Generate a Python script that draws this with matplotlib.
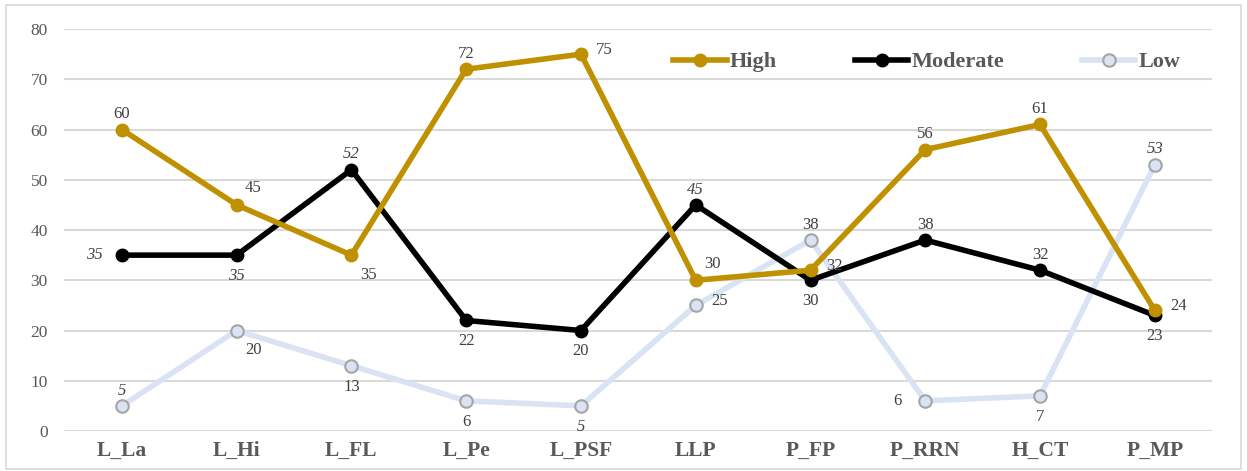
import matplotlib
matplotlib.use("AGG")
import matplotlib.pyplot as plt
import numpy as np

cats = ["L_La", "L_Hi", "L_FL", "L_Pe", "L_PSF", "LLP", "P_FP", "P_RRN", "H_CT", "P_MP"]
high = [60, 45, 35, 72, 75, 30, 32, 56, 61, 24]
moderate = [35, 35, 52, 22, 20, 45, 30, 38, 32, 23]
low = [5, 20, 13, 6, 5, 25, 38, 6, 7, 53]

# label placement per point (a=above, b=below, r=right, l=left, ar=above right, br=below right)
high_pos = ["a", "ar", "br", "a", "r", "ar", "r", "a", "a", "r"]
mod_pos = ["l", "b", "a", "b", "b", "a", "b", "a", "a", "b"]
low_pos = ["a", "br", "b", "b", "b", "r", "a", "l", "b", "a"]
mod_ital = [1, 1, 1, 0, 0, 1, 0, 0, 0, 0]
low_ital = [1, 0, 0, 0, 1, 0, 0, 0, 0, 1]

offs = {"a": (0, 11), "b": (0, -15), "r": (17, 3), "l": (-20, 0),
        "ar": (12, 12), "br": (12, -14)}

plt.rcParams["font.family"] = ["Liberation Serif", "DejaVu Serif"]

fig = plt.figure(figsize=(12.47, 4.71), dpi=100)
ax = fig.add_axes([0.0517, 0.0849, 0.9204, 0.8535])
fig.patches.append(plt.Rectangle((0.005, 0.004), 0.99, 0.985, transform=fig.transFigure,
                                 fill=False, ec="#D9D9D9", lw=1.2))

x = np.arange(len(cats))
ax.plot(x, low, color="#DAE3F3", lw=4, marker="o", ms=9, mfc="#DAE3F3",
        mec="#A5A5A5", mew=1.5, label="Low", zorder=3)
ax.plot(x, moderate, color="black", lw=4, marker="o", ms=9, label="Moderate", zorder=4)
ax.plot(x, high, color="#BF9000", lw=4, marker="o", ms=9, label="High", zorder=5)

def labels(vals, pos, ital):
    for i, v in enumerate(vals):
        dx, dy = offs[pos[i]]
        ax.annotate(str(v), (x[i], v), xytext=(dx, dy), textcoords="offset points",
                    ha="center", va="center", fontsize=12, color="#404040",
                    style="italic" if ital[i] else "normal", zorder=6)

labels(high, high_pos, [0] * 10)
labels(moderate, mod_pos, mod_ital)
labels(low, low_pos, low_ital)

ax.set_xlim(-0.5, len(cats) - 0.5)
ax.set_ylim(0, 80)
ax.set_yticks(range(0, 81, 10))
ax.yaxis.grid(True, color="#D9D9D9", lw=1.5)
ax.set_axisbelow(True)
for s in ax.spines.values():
    s.set_visible(False)
ax.tick_params(axis="both", length=0)
ax.tick_params(axis="y", labelsize=12.5, labelcolor="#595959", pad=12)
ax.set_xticks(x)
ax.set_xticklabels(cats, fontsize=15.5, fontweight="bold", color="#595959")
ax.tick_params(axis="x", pad=7)

h, l = ax.get_legend_handles_labels()
ax.legend(h[::-1], l[::-1], loc="upper right", bbox_to_anchor=(0.99, 0.993), ncol=3,
          frameon=False, prop={"weight": "bold", "size": 16},
          handlelength=2.4, columnspacing=3.5, handletextpad=0.15, labelcolor="#595959")

fig.savefig("out.png", dpi=100)
